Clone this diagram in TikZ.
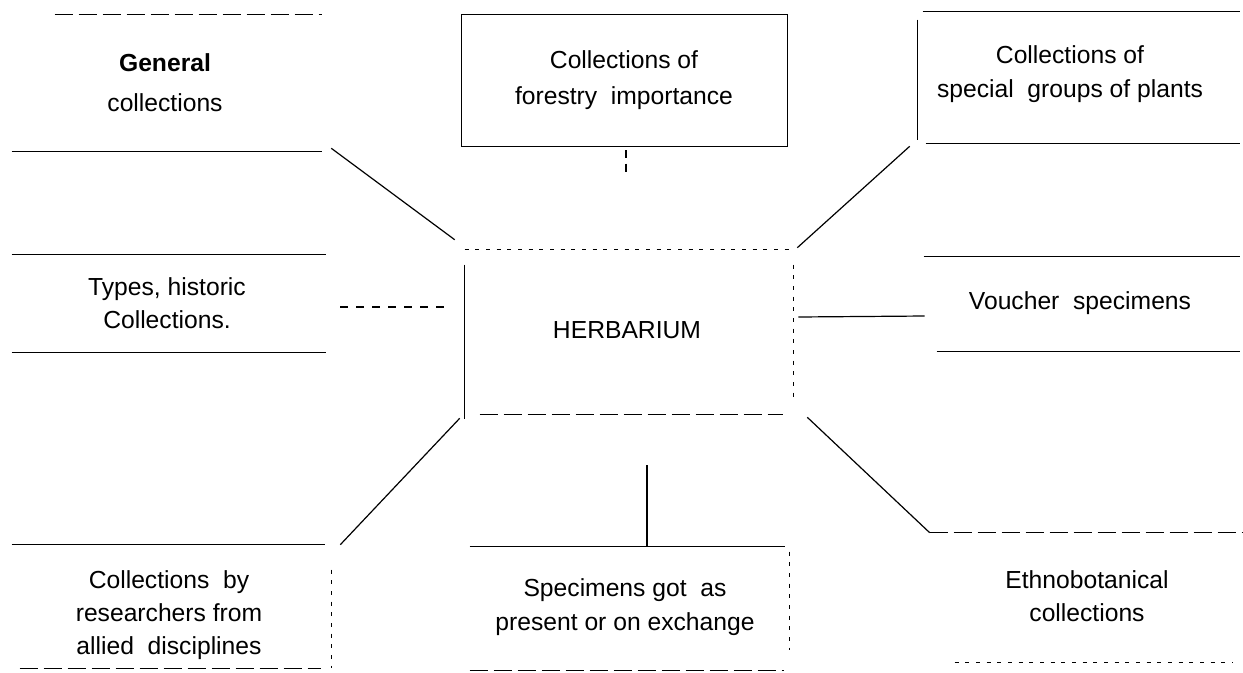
\documentclass[tikz,border=0pt]{standalone}
\usepackage{fontspec}
\setmainfont{Liberation Sans}
\begin{document}
\begin{tikzpicture}[x=0.75pt,y=-0.75pt,
  frame/.style={draw=none,inner sep=0pt,minimum width=#1},
  edge/.style={line width=1pt},
  faint/.style={line width=0.8pt,dash pattern=on 14pt off 4pt},
  dotty/.style={line width=0.8pt,dash pattern=on 3pt off 5pt},
  conn/.style={line width=0.9pt},
  lbl/.style={align=center,font=\fontsize{18.5}{25}\selectfont,inner sep=0pt}]
\useasboundingbox (0,0) rectangle (1243,672);
% box frames
\node[frame=232.5pt,minimum height=102pt] (gen) at (167,83) {};
\node[frame=243.75pt,minimum height=98.25pt] (forest) at (624.5,80.5) {};
\node[frame=241.5pt,minimum height=98.25pt] (special) at (1079,77.5) {};
\node[frame=235.5pt,minimum height=72.75pt] (types) at (169,303.5) {};
\node[frame=246pt,minimum height=123pt] (herb) at (629,332) {};
\node[frame=237pt,minimum height=70.5pt] (voucher) at (1082,304) {};
\node[frame=239.25pt,minimum height=92.25pt] (research) at (171.5,606.5) {};
\node[frame=239.25pt,minimum height=92.25pt] (spec) at (629.5,608.5) {};
\node[frame=234.75pt,minimum height=96.75pt] (ethno) at (1086.5,597.5) {};
% texts
\node[lbl,font=\fontsize{18.5}{30}\selectfont] (gentxt) at (165,83) {\textbf{General}\\collections};
\node[lbl,font=\fontsize{18.5}{27}\selectfont] (foresttxt) at (624,80) {Collections of\\forestry\ \ importance};
\node[lbl] (specialtxt) at (1070,74) {Collections of\\special\ \ groups of plants};
\node[lbl] (typestxt) at (167,303) {Types, historic\\Collections.};
\node[lbl] (herbtxt) at (627,330) {HERBARIUM};
\node[lbl] (vouchertxt) at (1080,303) {Voucher\ \ specimens};
\node[lbl] (researchtxt) at (169,615) {Collections\ \ by\\researchers from\\allied\ \ disciplines};
\node[lbl] (spectxt) at (625,607) {Specimens got\ \ as\\present or on exchange};
\node[lbl] (ethnotxt) at (1087,596) {Ethnobotanical\\collections};
% box edges
\draw[faint] ([shift={(43,0)}]gen.north west) -- (gen.north east);
\draw[edge] (gen.south west) -- (gen.south east);
\draw[edge] (forest.north west) rectangle (forest.south east);
\draw[edge] ([shift={(5,0)}]special.north west) -- (special.north east);
\draw[edge] ([shift={(0,8)}]special.north west) -- ([shift={(0,-3)}]special.south west);
\draw[edge] ([shift={(8,0)}]special.south west) -- (special.south east);
\draw[edge] (types.north west) -- (types.north east);
\draw[edge] (types.south west) -- (types.south east);
\draw[dotty] (herb.north west) -- (herb.north east);
\draw[edge] ([shift={(0,15)}]herb.north west) -- ([shift={(0,5)}]herb.south west);
\draw[dotty] ([shift={(0,15)}]herb.north east) -- ([shift={(0,-12)}]herb.south east);
\draw[faint] ([shift={(15,0)}]herb.south west) -- ([shift={(-10,0)}]herb.south east);
\draw[edge] (voucher.north west) -- (voucher.north east);
\draw[edge] ([shift={(13,0)}]voucher.south west) -- (voucher.south east);
\draw[edge] (research.north west) -- ([shift={(-6,0)}]research.north east);
\draw[dotty] ([shift={(0,25)}]research.north east) -- (research.south east);
\draw[faint] ([shift={(8,0)}]research.south west) -- ([shift={(-10,0)}]research.south east);
\draw[edge] (spec.north west) -- ([shift={(-4,0)}]spec.north east);
\draw[dotty] ([shift={(0,5)}]spec.north east) -- ([shift={(0,-20)}]spec.south east);
\draw[faint] (spec.south west) -- ([shift={(-5,0)}]spec.south east);
\draw[faint] (ethno.north west) -- (ethno.north east);
\draw[dotty] ([shift={(25,0)}]ethno.south west) -- ([shift={(-10,0)}]ethno.south east);
% connectors
\coordinate (fend) at (626,176);
\coordinate (tend) at (447,307);
\coordinate (send) at (647,465);
\draw[conn] ([shift={(9,-3)}]gen.south east) -- ([shift={(-10,-10)}]herb.north west);
\draw[conn,dash pattern=on 6pt off 4pt] ([shift={(1.5,4)}]forest.south) -- (fend);
\draw[conn] ([shift={(-8,3)}]special.south west) -- ([shift={(4,-2)}]herb.north east);
\draw[conn,dash pattern=on 6pt off 6pt] ([shift={(14,3.5)}]types.east) -- (tend);
\draw[conn] ([shift={(5,-15)}]herb.east) -- ([shift={(1,12)}]voucher.west);
\draw[conn] ([shift={(9,0)}]research.north east) -- ([shift={(-5,4)}]herb.south west);
\draw[conn] ([shift={(17.5,0)}]spec.north) -- (send);
\draw[conn] ([shift={(14,3)}]herb.south east) -- (ethno.north west);
\end{tikzpicture}
\end{document}
